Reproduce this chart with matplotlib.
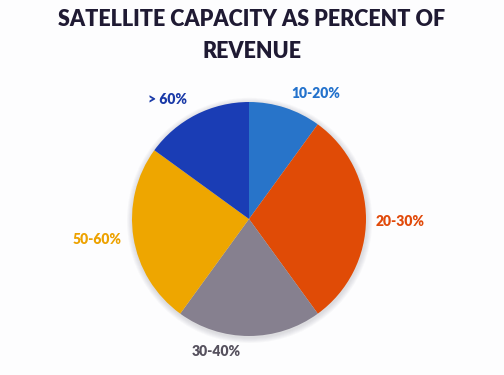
import matplotlib.pyplot as plt
from matplotlib.patches import Circle

# data
labels = ['10-20%', '20-30%', '30-40%', '50-60%', '> 60%']
shares = [10, 30, 20, 25, 15]
colors = ['#2874C9', '#E04B06', '#86808F', '#EEA600', '#1A3DB5']
label_colors = ['#2372CC', '#E14A0A', '#56515E', '#EDA200', '#1A3AA8']
# label anchor points (pixels from top-left of the figure)
label_pos = [(316, 93), (400, 221), (216, 352), (97, 240), (168, 100)]

plt.rcParams['font.family'] = ['Lato', 'DejaVu Sans']

W, H = 504, 375
fig = plt.figure(figsize=(W / 100, H / 100), dpi=100)
fig.patch.set_facecolor('#FDFDFE')

# pie centre ~ (249, 219), radius ~117 px
cx, cy, r = 249, 219, 117
ax = fig.add_axes([(cx - r) / W, 1 - (cy + r) / H, 2 * r / W, 2 * r / H])

# faint soft shadow round the pie
for k in range(6):
    ax.add_patch(Circle((0.005, -0.012), 1 + 0.008 * (k + 1), color='#606070',
                        alpha=0.035, lw=0, zorder=0, clip_on=False))

ax.pie(shares, colors=colors, startangle=90, counterclock=False,
       radius=1, wedgeprops=dict(linewidth=0, zorder=2))
ax.set_xlim(-1, 1)
ax.set_ylim(-1, 1)
ax.set_aspect('equal')
ax.axis('off')

for lab, col, (px, py) in zip(labels, label_colors, label_pos):
    fig.text(px / W, 1 - py / H, lab, color=col, fontsize=10,
             fontweight='heavy', ha='center', va='center')

fig.text(0.5, 1 - 20 / H, 'SATELLITE CAPACITY AS PERCENT OF', ha='center',
         va='center', fontsize=15.5, fontweight='heavy', color='#1F1A33')
fig.text(0.5, 1 - 51 / H, 'REVENUE', ha='center', va='center',
         fontsize=15.5, fontweight='heavy', color='#1F1A33')

fig.savefig('out.png', dpi=100, facecolor=fig.get_facecolor())
